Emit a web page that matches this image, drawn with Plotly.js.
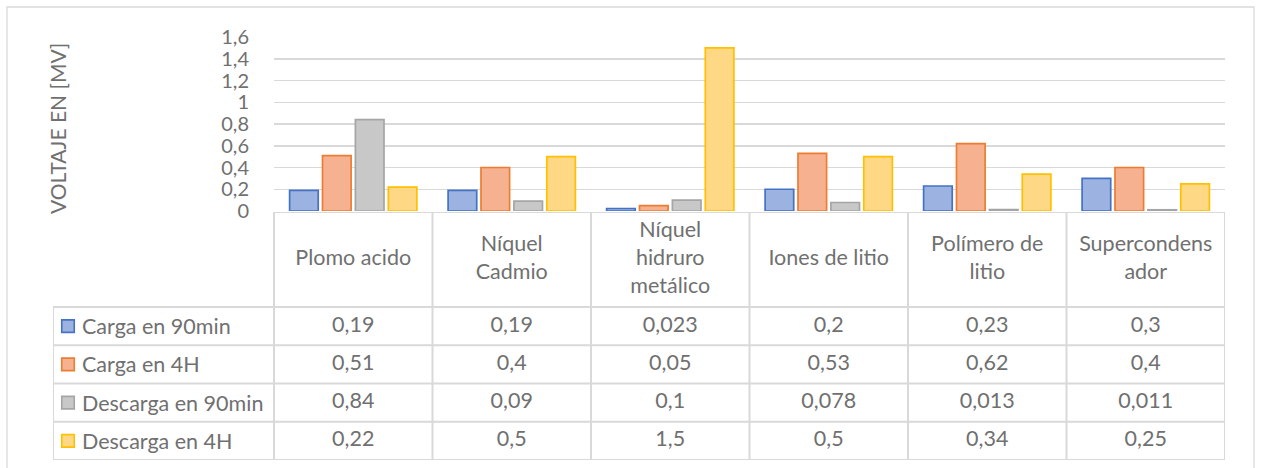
<!DOCTYPE html>
<html><head><meta charset="utf-8">
<script src="https://cdn.plot.ly/plotly-3.0.1.min.js"></script>
<style>html,body{margin:0;padding:0;background:#fff}#c{width:1261px;height:468px}</style>
</head><body><div id="c"></div>
<script>
const categories = ["Plomo acido", "Níquel<br>Cadmio", "Níquel<br>hidruro<br>metálico", "Iones de litio", "Polímero de<br>litio", "Supercondens<br>ador"];
const seriesNames = ["Carga en 90min", "Carga en 4H", "Descarga en 90min", "Descarga en 4H"];
const carga90 = [0.19, 0.19, 0.023, 0.2, 0.23, 0.3];
const carga4h = [0.51, 0.4, 0.05, 0.53, 0.62, 0.4];
const descarga90 = [0.84, 0.09, 0.1, 0.078, 0.013, 0.011];
const descarga4h = [0.22, 0.5, 1.5, 0.5, 0.34, 0.25];
const yTicks = [0, 0.2, 0.4, 0.6, 0.8, 1, 1.2, 1.4, 1.6];
const yTitle = "VOLTAJE EN [MV]";

const seriesVals = [carga90, carga4h, descarga90, descarga4h];
const fills = ["#9cb2e1", "#f6b191", "#c8c8c8", "#ffd886"];
const borders = ["#4472c4", "#ed7d31", "#a5a5a5", "#ffc000"];
const FONT = "Lato, 'Open Sans', sans-serif";
const TXT = "#707070";
const GRID = "#d9d9d9";
const FS = 21.5;
const W = 1261, H = 468;
const py = p => 1 - p / H, px = p => p / W;

const nCat = categories.length;
const idx = categories.map((_, i) => i);
const headerRows = 95 / 38.25;            // header height in row units
const tableTop = -0.5 - headerRows;
const legendCols = (274 - 53) / 158.5;    // legend column width in category units
const tableLeft = -0.5 - legendCols;

const traces = [];
seriesVals.forEach((vals, s) => {
  traces.push({
    type: "bar", x: idx, y: vals, name: seriesNames[s], xaxis: "x", yaxis: "y",
    marker: {color: fills[s], line: {color: borders[s], width: 1.7}},
    showlegend: false, hoverinfo: "skip"
  });
});
// header texts
traces.push({
  type: "scatter", mode: "text", xaxis: "x2", yaxis: "y2",
  x: idx, y: idx.map(() => -0.5 - headerRows / 2), text: categories,
  textfont: {family: FONT, size: FS, color: TXT}, showlegend: false, hoverinfo: "skip"
});
// values
seriesVals.forEach((vals, s) => {
  traces.push({
    type: "scatter", mode: "text", xaxis: "x2", yaxis: "y2",
    x: idx, y: idx.map(() => s), text: vals.map(v => String(v).replace(".", ",")),
    textfont: {family: FONT, size: FS, color: TXT}, showlegend: false, hoverinfo: "skip"
  });
});
// legend keys
traces.push({
  type: "scatter", mode: "markers", xaxis: "x2", yaxis: "y2",
  x: seriesNames.map(() => tableLeft + 15 / 158.5), y: seriesNames.map((_, s) => s),
  marker: {symbol: "square", size: 12.5, color: fills, line: {color: borders, width: 1.6}},
  showlegend: false, hoverinfo: "skip"
});

const shapes = [];
// outer border
shapes.push({type: "rect", xref: "paper", yref: "paper", x0: px(7), x1: px(1254), y0: -0.1, y1: py(7),
  line: {color: GRID, width: 1.3}, layer: "below"});
// horizontal table lines
for (let r = -1; r < seriesNames.length; r++) {
  shapes.push({type: "line", xref: "x2", yref: "y2", x0: tableLeft, x1: nCat - 0.5, y0: r + 0.5, y1: r + 0.5,
    line: {color: GRID, width: 2}});
}
shapes.push({type: "line", xref: "x2", yref: "y2", x0: -0.5, x1: nCat - 0.5, y0: tableTop, y1: tableTop,
  line: {color: GRID, width: 2}});
// vertical table lines
shapes.push({type: "line", xref: "x2", yref: "y2", x0: tableLeft, x1: tableLeft, y0: -0.5, y1: seriesNames.length - 0.5,
  line: {color: GRID, width: 2}});
for (let k = 0; k <= nCat; k++) {
  shapes.push({type: "line", xref: "x2", yref: "y2", x0: k - 0.5, x1: k - 0.5, y0: tableTop, y1: seriesNames.length - 0.5,
    line: {color: GRID, width: 2}});
}

const annotations = seriesNames.map((n, s) => ({
  xref: "x2", yref: "y2", x: tableLeft + 27 / 158.5, y: s, text: n, showarrow: false,
  xanchor: "left", yanchor: "middle", font: {family: FONT, size: FS, color: TXT}
}));
annotations.push({
  xref: "paper", yref: "paper", x: px(57), y: py(129), text: yTitle, textangle: -90, showarrow: false,
  xanchor: "center", yanchor: "middle", font: {family: FONT, size: 21, color: TXT}
});

const layout = {
  width: W, height: H, margin: {l: 0, r: 0, t: 0, b: 0},
  paper_bgcolor: "#fff", plot_bgcolor: "rgba(0,0,0,0)",
  separators: ", ", showlegend: false,
  barmode: "group", bargap: 0.17, bargroupgap: 0.13,
  font: {family: FONT, color: TXT},
  xaxis: {domain: [px(274), px(1225)], range: [-0.5, nCat - 0.5], showticklabels: false, showgrid: false,
    zeroline: false, showline: false, ticks: "", fixedrange: true},
  yaxis: {domain: [py(211), py(37)], range: [0, 1.6], tickvals: yTicks, showgrid: true, gridcolor: GRID, gridwidth: 1.5,
    zeroline: false, showline: false, ticks: "outside", ticklen: 20, tickcolor: "rgba(0,0,0,0)",
    tickfont: {family: FONT, size: 20, color: TXT}, fixedrange: true},
  xaxis2: {domain: [px(53), px(1225)], range: [tableLeft, nCat - 0.5], anchor: "y2", visible: false, fixedrange: true},
  yaxis2: {domain: [py(460), py(212)], range: [seriesNames.length - 0.5, tableTop], anchor: "x2", visible: false, fixedrange: true},
  shapes: shapes, annotations: annotations
};
Plotly.newPlot("c", traces, layout, {displayModeBar: false, staticPlot: true});
</script></body></html>
